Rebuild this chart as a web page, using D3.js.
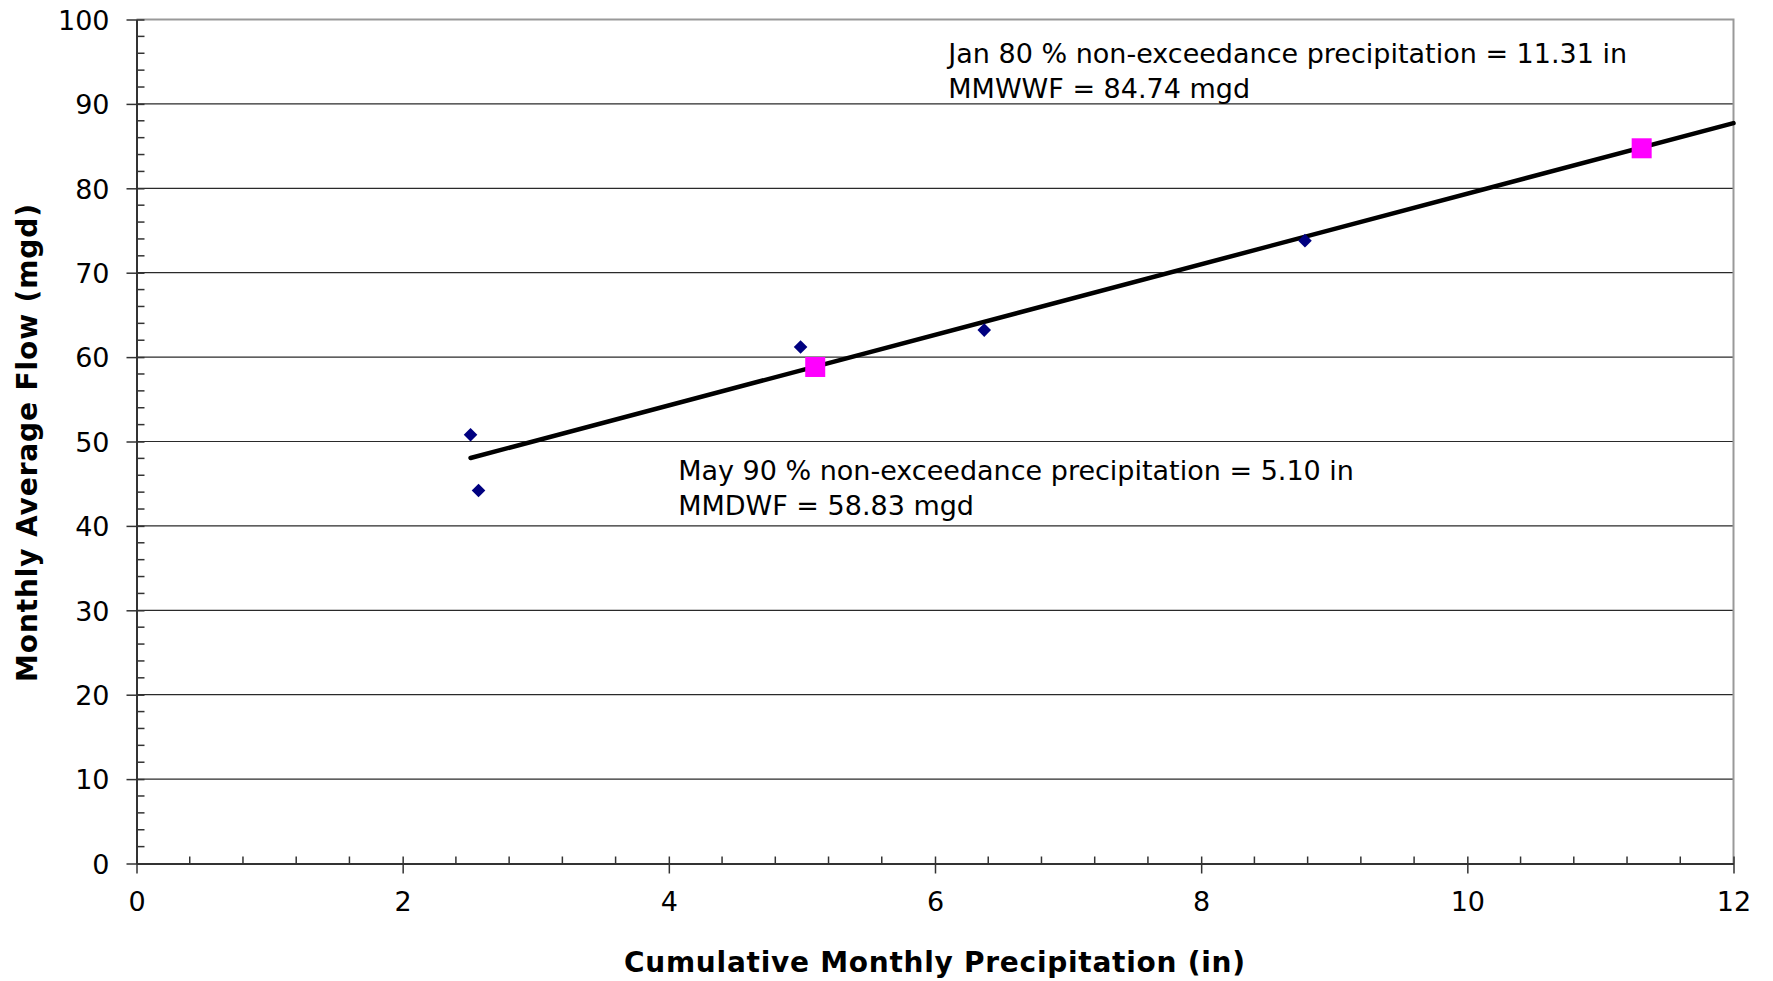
<!DOCTYPE html>
<html>
<head>
<meta charset="utf-8">
<script src="https://cdn.jsdelivr.net/npm/d3@7"></script>
<style>
  html, body { margin: 0; padding: 0; background: #fff; }
  svg { display: block; font-family: "DejaVu Sans", Verdana, sans-serif; }
</style>
</head>
<body>
<svg id="chart" width="1773" height="981"></svg>
<script>
// observed monthly points (blue diamonds)
const precip = [2.51, 2.57, 4.99, 6.37, 8.78];
const flow = [50.8, 44.2, 61.2, 63.2, 73.8];

// design points (magenta squares)
const designPrecip = [5.10, 11.31];
const designFlow = [58.83, 84.74];

const xTicks = [0, 2, 4, 6, 8, 10, 12];
const yTicks = [0, 10, 20, 30, 40, 50, 60, 70, 80, 90, 100];

const notes = [
  { x: 6.10, y: 94.8, lines: ["Jan 80 % non-exceedance precipitation = 11.31 in", "MMWWF = 84.74 mgd"] },
  { x: 4.07, y: 45.4, lines: ["May 90 % non-exceedance precipitation = 5.10 in", "MMDWF = 58.83 mgd"] }
];

const margin = { top: 19.5, right: 39.5, bottom: 117.5, left: 136.5 },
    width = 1773 - margin.left - margin.right,
    height = 981 - margin.top - margin.bottom;

const svg = d3.select("#chart");
const g = svg.append("g").attr("transform", `translate(${margin.left}, ${margin.top})`);

const x = d3.scaleLinear().domain([0, 12]).range([0, width]);
const y = d3.scaleLinear().domain([0, 100]).range([height, 0]);

// gridlines
g.append("g")
    .selectAll("line")
    .data(yTicks.filter(d => d > 0 && d < 100))
    .join("line")
    .attr("x1", 0).attr("x2", width)
    .attr("y1", d => y(d)).attr("y2", d => y(d))
    .attr("stroke", "#2a2a2a")
    .attr("stroke-width", 1.2);

// plot border (top and right grey)
g.append("path")
    .attr("d", `M0,${y(100)}H${width}V${height}`)
    .attr("fill", "none")
    .attr("stroke", "#999")
    .attr("stroke-width", 2);

// minor ticks
const yMinor = d3.range(0, 100, 2).filter(d => d % 10 !== 0);
g.append("g")
    .selectAll("line")
    .data(yMinor)
    .join("line")
    .attr("x1", 0).attr("x2", 8)
    .attr("y1", d => y(d)).attr("y2", d => y(d))
    .attr("stroke", "#333").attr("stroke-width", 1.5);

const xMinor = d3.range(0, 12, 0.4).filter(d => Math.abs(d / 2 - Math.round(d / 2)) > 0.01);
g.append("g")
    .selectAll("line")
    .data(xMinor)
    .join("line")
    .attr("x1", d => x(d)).attr("x2", d => x(d))
    .attr("y1", height).attr("y2", height - 7)
    .attr("stroke", "#333").attr("stroke-width", 1.5);

// axes
const yAxis = g.append("g")
    .call(d3.axisLeft(y).tickValues(yTicks).tickSize(10).tickPadding(17).tickSizeOuter(0));
const xAxis = g.append("g")
    .attr("transform", `translate(0, ${height})`)
    .call(d3.axisBottom(x).tickValues(xTicks).tickSize(10).tickPadding(18).tickSizeOuter(0));

[yAxis, xAxis].forEach(a => {
    a.select(".domain").attr("stroke", "#333").attr("stroke-width", 2);
    a.selectAll(".tick line").attr("stroke", "#333").attr("stroke-width", 1.5);
    a.selectAll(".tick text").attr("fill", "#000").style("font-size", "27px").style("font-family", "DejaVu Sans, sans-serif");
});
yAxis.selectAll(".tick text").attr("dy", "0.36em");
yAxis.selectAll(".tick line").attr("x2", 8).attr("x1", -10);
xAxis.selectAll(".tick line").attr("y1", -7);

// trendline (least squares over the observed points)
const mx = d3.mean(precip), my = d3.mean(flow);
const slope = d3.sum(precip, (p, i) => (p - mx) * (flow[i] - my)) / d3.sum(precip, p => (p - mx) ** 2);
const intercept = my - slope * mx;
const trendX = [d3.min(precip), 12];
g.append("line")
    .attr("x1", x(trendX[0])).attr("y1", y(intercept + slope * trendX[0]))
    .attr("x2", x(trendX[1])).attr("y2", y(intercept + slope * trendX[1]))
    .attr("stroke", "#000")
    .attr("stroke-width", 4.5)
    .attr("stroke-linecap", "round");

// diamonds
g.append("g")
    .selectAll("path")
    .data(precip.map((p, i) => [p, flow[i]]))
    .join("path")
    .attr("d", d3.symbol(d3.symbolDiamond2, 118))
    .attr("transform", d => `translate(${x(d[0])}, ${y(d[1])})`)
    .attr("fill", "#000080");

// squares
g.append("g")
    .selectAll("rect")
    .data(designPrecip.map((p, i) => [p, designFlow[i]]))
    .join("rect")
    .attr("x", d => x(d[0]) - 10).attr("y", d => y(d[1]) - 10)
    .attr("width", 20).attr("height", 20)
    .attr("fill", "#ff00ff");

// annotations
notes.forEach(n => {
    const t = g.append("text")
        .attr("x", x(n.x)).attr("y", y(n.y))
        .style("font-size", "27px")
        .attr("fill", "#000");
    n.lines.forEach((l, i) => {
        t.append("tspan").attr("x", x(n.x)).attr("dy", i === 0 ? 0 : 34.5).text(l);
    });
});

// axis titles
svg.append("text")
    .attr("x", margin.left + width / 2 - 0.5)
    .attr("y", 972)
    .attr("text-anchor", "middle")
    .style("font-size", "28px")
    .style("font-weight", "bold")
    .attr("textLength", 621)
    .attr("lengthAdjust", "spacing")
    .text("Cumulative Monthly Precipitation (in)");

svg.append("text")
    .attr("transform", `translate(37, ${margin.top + height / 2 + 1.5}) rotate(-90)`)
    .attr("text-anchor", "middle")
    .style("font-size", "28px")
    .style("font-weight", "bold")
    .attr("textLength", 478)
    .attr("lengthAdjust", "spacing")
    .text("Monthly Average Flow (mgd)");
</script>
</body>
</html>
